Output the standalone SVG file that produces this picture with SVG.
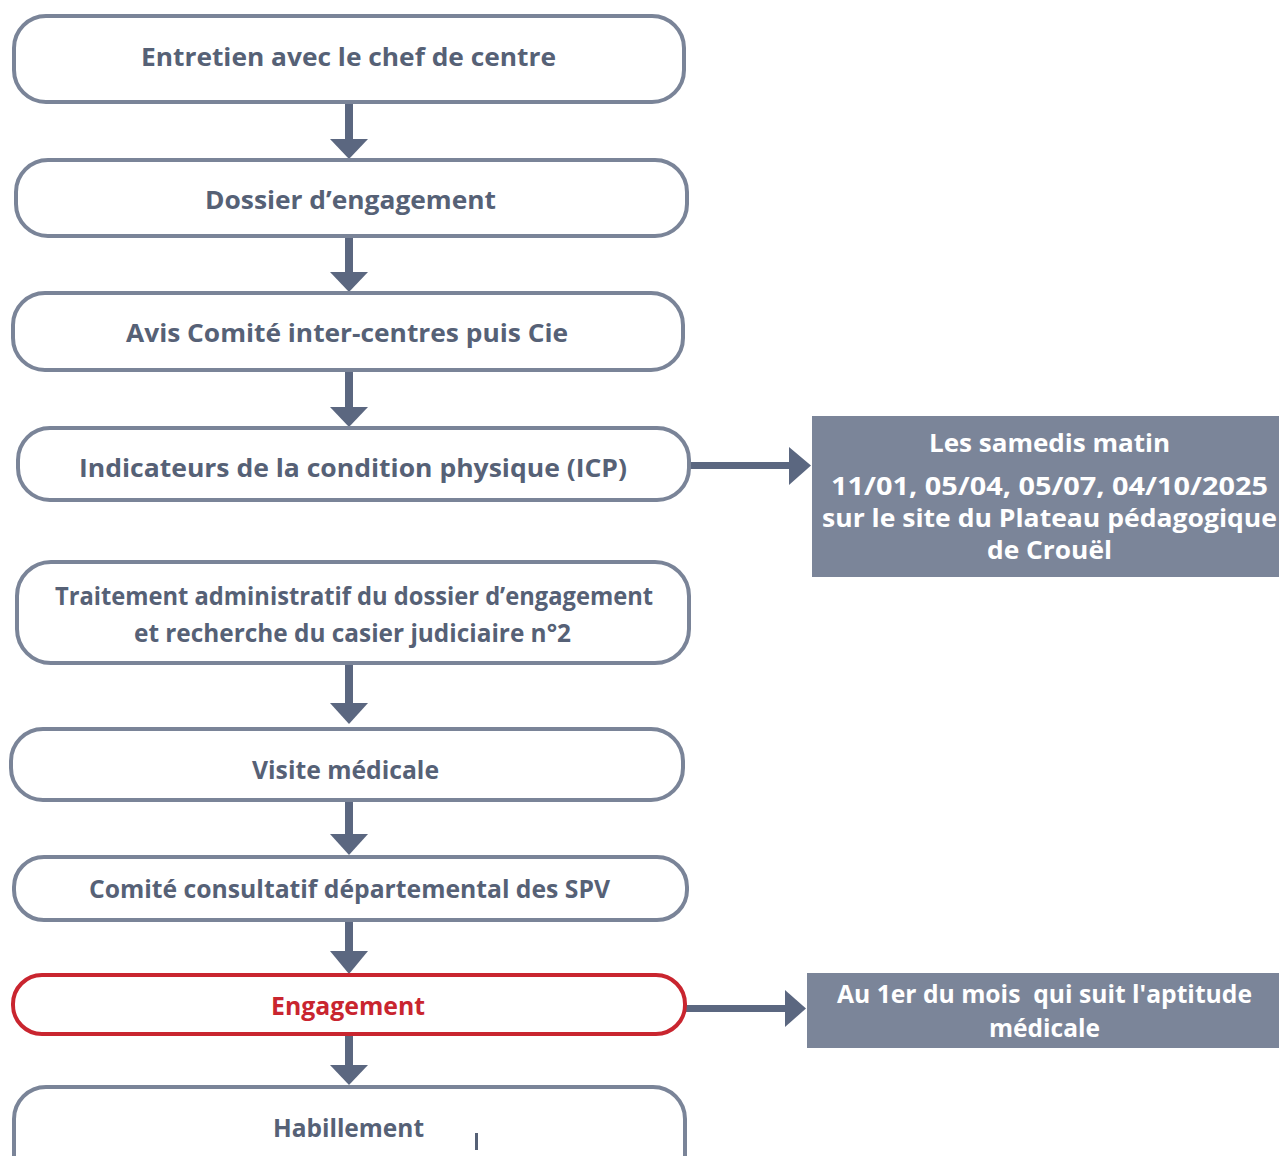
<svg xmlns="http://www.w3.org/2000/svg" width="1279" height="1156" viewBox="0 0 1279 1156">
<style>
.box{fill:#fff;stroke:#7a8498;stroke-width:4}
.red{stroke:#c9252f}
.t{font-family:"Open Sans","Noto Sans","Liberation Sans",sans-serif;font-weight:700;font-size:25px;fill:#566176;text-anchor:middle}
.tr{fill:#c9252f}
.w{fill:#fff}
.side{fill:#7b8599}
.ar{fill:#5b6780}
</style>
<rect width="1279" height="1156" fill="#fff"/>
<g id="connectors">
<rect class="ar" x="345" y="103" width="8" height="38"/><polygon class="ar" points="330,139 368,139 349,159"/>
<rect class="ar" x="345" y="237" width="8" height="37"/><polygon class="ar" points="330,272 368,272 349,292"/>
<rect class="ar" x="345" y="371" width="8" height="38"/><polygon class="ar" points="330,407 368,407 349,427"/>
<rect class="ar" x="345" y="664" width="8" height="41"/><polygon class="ar" points="330,703 368,703 349,724"/>
<rect class="ar" x="345" y="801" width="8" height="35"/><polygon class="ar" points="330,834 368,834 349,855"/>
<rect class="ar" x="345" y="921" width="8" height="32"/><polygon class="ar" points="330,951 368,951 349,974"/>
<rect class="ar" x="345" y="1035" width="8" height="32"/><polygon class="ar" points="330,1065 368,1065 349,1085"/>
<rect class="ar" x="690" y="462" width="100" height="7"/><polygon class="ar" points="789,447 789,485 811,465.5"/>
<rect class="ar" x="686" y="1005" width="101" height="7"/><polygon class="ar" points="785,990 785,1027 806,1008.5"/>
</g>
<g id="n1"><rect class="box" x="14" y="16" width="670" height="86" rx="32"/><text class="t" x="348.5" y="66" textLength="415" lengthAdjust="spacingAndGlyphs">Entretien avec le chef de centre</text></g>
<g id="n2"><rect class="box" x="16" y="160" width="671" height="76" rx="32"/><text class="t" x="350.5" y="209" textLength="291" lengthAdjust="spacingAndGlyphs">Dossier d’engagement</text></g>
<g id="n3"><rect class="box" x="13" y="293" width="670" height="77" rx="32"/><text class="t" x="347" y="342" textLength="442" lengthAdjust="spacingAndGlyphs">Avis Comité inter-centres puis Cie</text></g>
<g id="n4"><rect class="box" x="18" y="428" width="671" height="72" rx="32"/><text class="t" x="353" y="477" textLength="548" lengthAdjust="spacingAndGlyphs">Indicateurs de la condition physique (ICP)</text></g>
<g id="n5"><rect class="box" x="17" y="562" width="672" height="101" rx="34"/><text class="t" x="354" y="605" textLength="598" lengthAdjust="spacingAndGlyphs">Traitement administratif du dossier d’engagement</text><text class="t" x="352.5" y="642" textLength="437" lengthAdjust="spacingAndGlyphs">et recherche du casier judiciaire n°2</text></g>
<g id="n6"><rect class="box" x="11" y="729" width="672" height="71" rx="32"/><text class="t" x="345.5" y="779" textLength="187" lengthAdjust="spacingAndGlyphs">Visite médicale</text></g>
<g id="n7"><rect class="box" x="14" y="857" width="673" height="63" rx="30"/><text class="t" x="349.5" y="898" textLength="521" lengthAdjust="spacingAndGlyphs">Comité consultatif départemental des SPV</text></g>
<g id="n8"><rect class="box red" x="13" y="975" width="672" height="59" rx="29"/><text class="t tr" x="348" y="1015" textLength="154" lengthAdjust="spacingAndGlyphs">Engagement</text></g>
<g id="n9"><rect class="box" x="14" y="1087" width="671" height="110" rx="32"/><text class="t" x="348.5" y="1137" textLength="151" lengthAdjust="spacingAndGlyphs">Habillement</text><rect x="475" y="1133" width="3" height="17" fill="#566176"/></g>
<g id="s1"><rect class="side" x="812" y="416" width="467" height="161"/>
<text class="t w" x="1049.5" y="452" textLength="241" lengthAdjust="spacingAndGlyphs">Les samedis matin</text>
<text class="t w" x="1049.5" y="495" textLength="437" lengthAdjust="spacingAndGlyphs">11/01, 05/04, 05/07, 04/10/2025</text>
<text class="t w" x="1049.5" y="527" textLength="455" lengthAdjust="spacingAndGlyphs">sur le site du Plateau pédagogique</text>
<text class="t w" x="1049.5" y="559" textLength="125" lengthAdjust="spacingAndGlyphs">de Crouël</text></g>
<g id="s2"><rect class="side" x="807" y="973" width="472" height="75"/>
<text class="t w" x="1044.5" y="1003" textLength="415" lengthAdjust="spacingAndGlyphs" xml:space="preserve">Au 1er du mois  qui suit l'aptitude</text>
<text class="t w" x="1044.5" y="1037" textLength="111" lengthAdjust="spacingAndGlyphs">médicale</text></g>
</svg>
